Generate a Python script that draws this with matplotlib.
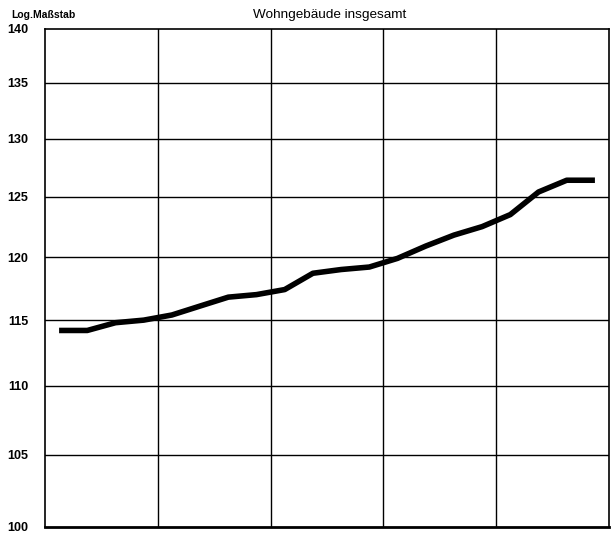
import matplotlib
matplotlib.use("Agg")
import matplotlib.pyplot as plt
from matplotlib.ticker import FixedLocator, FixedFormatter, NullFormatter

# quarterly index values (log scale), 5 years x 4 quarters
quarters = list(range(20))
values = [114.2, 114.2, 114.8, 115.0, 115.4, 116.1, 116.8, 117.0, 117.4, 118.7,
          119.0, 119.2, 119.9, 120.9, 121.8, 122.5, 123.5, 125.4, 126.4, 126.4]
y_ticks = [100, 105, 110, 115, 120, 125, 130, 135, 140]
year_edges = [-0.5, 3.5, 7.5, 11.5, 15.5, 19.5]

plt.rcParams["font.family"] = ["Liberation Sans", "DejaVu Sans"]

fig = plt.figure(figsize=(6.13, 5.33), dpi=100)
ax = fig.add_axes([0.0734, 0.0113, 0.9201, 0.9343])

ax.set_yscale("log")
ax.set_ylim(100, 140)
ax.set_xlim(year_edges[0], year_edges[-1])

for y in y_ticks[1:-1]:
    ax.axhline(y, color="black", lw=1.0, zorder=1)
for x in year_edges[1:-1]:
    ax.axvline(x, color="black", lw=1.0, zorder=1)

ax.plot(quarters, values, color="black", lw=4.0, solid_capstyle="butt",
        solid_joinstyle="round", zorder=3)

ax.yaxis.set_major_locator(FixedLocator(y_ticks))
ax.yaxis.set_major_formatter(FixedFormatter([str(v) for v in y_ticks]))
# only the baseline gets a little tick mark
ax.yaxis.set_minor_locator(FixedLocator([y_ticks[0]]))
ax.yaxis.set_minor_formatter(NullFormatter())
ax.set_xticks([])
ax.tick_params(axis="y", which="major", length=0, pad=12, labelsize=9)
ax.tick_params(axis="y", which="minor", length=6, width=2.0)
for lbl in ax.get_yticklabels():
    lbl.set_fontweight("bold")

for side in ["left", "right", "top"]:
    ax.spines[side].set_linewidth(1.2)
ax.spines["bottom"].set_linewidth(2.0)

fig.text(0.018, 0.972, "Log.Maßstab", fontsize=7.5, fontweight="bold",
         va="center", ha="left")
fig.text(0.537, 0.972, "Wohngebäude insgesamt", fontsize=9.7,
         va="center", ha="center")

fig.savefig("out.png", dpi=100)
